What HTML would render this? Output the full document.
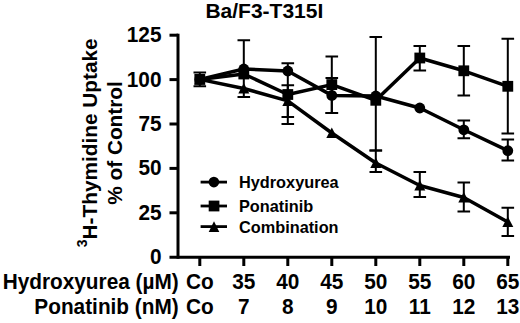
<!DOCTYPE html>
<html><head><meta charset="utf-8"><style>
html,body{margin:0;padding:0;background:#fff;width:520px;height:323px;overflow:hidden}
svg{display:block}
text{font-family:"Liberation Sans",sans-serif;font-weight:bold}
</style></head><body>
<svg width="520" height="323" viewBox="0 0 520 323">
<path d="M178 33.7V258.7" stroke="#000" stroke-width="3" fill="none"/>
<path d="M169.5 257.2H510" stroke="#000" stroke-width="3" fill="none"/>
<path d="M169.5 35.2H178" stroke="#000" stroke-width="3"/>
<path d="M169.5 79.6H178" stroke="#000" stroke-width="3"/>
<path d="M169.5 124.0H178" stroke="#000" stroke-width="3"/>
<path d="M169.5 168.4H178" stroke="#000" stroke-width="3"/>
<path d="M169.5 212.8H178" stroke="#000" stroke-width="3"/>
<path d="M199.8 257.2V266" stroke="#000" stroke-width="3"/>
<path d="M243.8 257.2V266" stroke="#000" stroke-width="3"/>
<path d="M287.8 257.2V266" stroke="#000" stroke-width="3"/>
<path d="M331.8 257.2V266" stroke="#000" stroke-width="3"/>
<path d="M375.8 257.2V266" stroke="#000" stroke-width="3"/>
<path d="M419.8 257.2V266" stroke="#000" stroke-width="3"/>
<path d="M463.8 257.2V266" stroke="#000" stroke-width="3"/>
<path d="M507.8 257.2V266" stroke="#000" stroke-width="3"/>
<path d="M199.8 72.4V86.2M193.5 72.4H206.10000000000002M193.5 86.2H206.10000000000002" stroke="#000" stroke-width="2" fill="none"/>
<path d="M243.8 40.3V96.9M237.5 40.3H250.10000000000002M237.5 96.9H250.10000000000002" stroke="#000" stroke-width="2" fill="none"/>
<path d="M287.8 63.2V124.0M281.5 63.2H294.1M281.5 124.0H294.1" stroke="#000" stroke-width="2" fill="none"/>
<path d="M287.8 85.3V116.9M281.5 85.3H294.1M281.5 116.9H294.1" stroke="#000" stroke-width="2" fill="none"/>
<path d="M331.8 56.5V113.1M325.5 56.5H338.1M325.5 113.1H338.1" stroke="#000" stroke-width="2" fill="none"/>
<path d="M331.8 77.9V113.1M325.5 77.9H338.1M325.5 113.1H338.1" stroke="#000" stroke-width="2" fill="none"/>
<path d="M375.8 37.0V150.6M369.5 37.0H382.1M369.5 150.6H382.1" stroke="#000" stroke-width="2" fill="none"/>
<path d="M375.8 150.6V172.0M369.5 150.6H382.1M369.5 172.0H382.1" stroke="#000" stroke-width="2" fill="none"/>
<path d="M419.8 46.1V70.4M413.5 46.1H426.1M413.5 70.4H426.1" stroke="#000" stroke-width="2" fill="none"/>
<path d="M419.8 172.0V196.9M413.5 172.0H426.1M413.5 196.9H426.1" stroke="#000" stroke-width="2" fill="none"/>
<path d="M463.8 46.1V95.6M457.5 46.1H470.1M457.5 95.6H470.1" stroke="#000" stroke-width="2" fill="none"/>
<path d="M463.8 120.5V138.2M457.5 120.5H470.1M457.5 138.2H470.1" stroke="#000" stroke-width="2" fill="none"/>
<path d="M463.8 182.4V211.5M457.5 182.4H470.1M457.5 211.5H470.1" stroke="#000" stroke-width="2" fill="none"/>
<path d="M507.8 38.7V133.4M501.5 38.7H514.1M501.5 133.4H514.1" stroke="#000" stroke-width="2" fill="none"/>
<path d="M507.8 139.6V160.6M501.5 139.6H514.1M501.5 160.6H514.1" stroke="#000" stroke-width="2" fill="none"/>
<path d="M507.8 207.7V236.0M501.5 207.7H514.1M501.5 236.0H514.1" stroke="#000" stroke-width="2" fill="none"/>
<polyline points="199.8,79.4 243.8,69.0 287.8,71.0 331.8,95.4 375.8,96.0 419.8,108.0 463.8,129.8 507.8,150.7" stroke="#000" stroke-width="3.5" fill="none" stroke-linejoin="round"/>
<polyline points="199.8,79.4 243.8,74.0 287.8,94.5 331.8,84.6 375.8,100.3 419.8,58.0 463.8,70.8 507.8,86.3" stroke="#000" stroke-width="3.5" fill="none" stroke-linejoin="round"/>
<polyline points="199.8,79.4 243.8,88.5 287.8,100.9 331.8,133.0 375.8,163.0 419.8,185.5 463.8,197.5 507.8,222.0" stroke="#000" stroke-width="3.5" fill="none" stroke-linejoin="round"/>
<circle cx="199.8" cy="79.4" r="5.4" fill="#000"/>
<rect x="194.4" y="74.0" width="10.8" height="10.8" fill="#000"/>
<path d="M199.8 73.9L205.3 84.4L194.3 84.4Z" fill="#000"/>
<circle cx="243.8" cy="69.0" r="5.4" fill="#000"/>
<rect x="238.4" y="68.6" width="10.8" height="10.8" fill="#000"/>
<path d="M243.8 83.0L249.3 93.5L238.3 93.5Z" fill="#000"/>
<circle cx="287.8" cy="71.0" r="5.4" fill="#000"/>
<rect x="282.40000000000003" y="89.1" width="10.8" height="10.8" fill="#000"/>
<path d="M287.8 95.4L293.3 105.9L282.3 105.9Z" fill="#000"/>
<circle cx="331.8" cy="95.4" r="5.4" fill="#000"/>
<rect x="326.40000000000003" y="79.19999999999999" width="10.8" height="10.8" fill="#000"/>
<path d="M331.8 127.5L337.3 138.0L326.3 138.0Z" fill="#000"/>
<circle cx="375.8" cy="96.0" r="5.4" fill="#000"/>
<rect x="370.40000000000003" y="94.89999999999999" width="10.8" height="10.8" fill="#000"/>
<path d="M375.8 157.5L381.3 168.0L370.3 168.0Z" fill="#000"/>
<circle cx="419.8" cy="108.0" r="5.4" fill="#000"/>
<rect x="414.40000000000003" y="52.6" width="10.8" height="10.8" fill="#000"/>
<path d="M419.8 180.0L425.3 190.5L414.3 190.5Z" fill="#000"/>
<circle cx="463.8" cy="129.8" r="5.4" fill="#000"/>
<rect x="458.40000000000003" y="65.39999999999999" width="10.8" height="10.8" fill="#000"/>
<path d="M463.8 192.0L469.3 202.5L458.3 202.5Z" fill="#000"/>
<circle cx="507.8" cy="150.7" r="5.4" fill="#000"/>
<rect x="502.40000000000003" y="80.89999999999999" width="10.8" height="10.8" fill="#000"/>
<path d="M507.8 216.5L513.3 227.0L502.3 227.0Z" fill="#000"/>
<path d="M200.6 182.1H227" stroke="#000" stroke-width="2.8"/>
<circle cx="213.9" cy="182.1" r="5.3" fill="#000"/>
<text transform="translate(239 188.1) scale(1 1.05)" font-size="16.3" font-family="Liberation Sans, sans-serif" font-weight="bold">Hydroxyurea</text>
<path d="M200.6 206.0H227" stroke="#000" stroke-width="2.8"/>
<rect x="208.7" y="200.6" width="10.7" height="10.8" fill="#000"/>
<text transform="translate(239 212.0) scale(1 1.05)" font-size="16.3" font-family="Liberation Sans, sans-serif" font-weight="bold">Ponatinib</text>
<path d="M200.6 226.6H227" stroke="#000" stroke-width="2.8"/>
<path d="M214 221.29999999999998L219.3 232.0L208.7 232.0Z" fill="#000"/>
<text transform="translate(239 232.6) scale(1 1.05)" font-size="16.3" font-family="Liberation Sans, sans-serif" font-weight="bold">Combination</text>
<text x="205.4" y="18.2" font-size="21" font-family="Liberation Sans, sans-serif" font-weight="bold">Ba/F3-T315I</text>
<text transform="translate(161.5 42.2) scale(1 1.06)" font-size="20.8" text-anchor="end" font-family="Liberation Sans, sans-serif" font-weight="bold">125</text>
<text transform="translate(161.5 86.6) scale(1 1.06)" font-size="20.8" text-anchor="end" font-family="Liberation Sans, sans-serif" font-weight="bold">100</text>
<text transform="translate(161.5 131.0) scale(1 1.06)" font-size="20.8" text-anchor="end" font-family="Liberation Sans, sans-serif" font-weight="bold">75</text>
<text transform="translate(161.5 175.4) scale(1 1.06)" font-size="20.8" text-anchor="end" font-family="Liberation Sans, sans-serif" font-weight="bold">50</text>
<text transform="translate(161.5 219.8) scale(1 1.06)" font-size="20.8" text-anchor="end" font-family="Liberation Sans, sans-serif" font-weight="bold">25</text>
<text transform="translate(161.5 264.2) scale(1 1.06)" font-size="20.8" text-anchor="end" font-family="Liberation Sans, sans-serif" font-weight="bold">0</text>
<g transform="translate(97,142.8) rotate(-90)"><text x="0" y="0" font-size="20.8" text-anchor="middle" font-family="Liberation Sans, sans-serif" font-weight="bold"><tspan font-size="14" dy="-10">3</tspan><tspan dy="10">H-Thymidine Uptake</tspan></text></g>
<g transform="translate(121.6,143) rotate(-90)"><text x="0" y="0" font-size="20.8" text-anchor="middle" font-family="Liberation Sans, sans-serif" font-weight="bold">% of Control</text></g>
<text transform="translate(178.7 288.6) scale(1 1.06)" font-size="20.8" text-anchor="end" font-family="Liberation Sans, sans-serif" font-weight="bold">Hydroxyurea (µM)</text>
<text transform="translate(178.7 313.6) scale(1 1.06)" font-size="20.8" text-anchor="end" font-family="Liberation Sans, sans-serif" font-weight="bold">Ponatinib (nM)</text>
<text transform="translate(199.8 288.6) scale(1 1.06)" font-size="20.8" text-anchor="middle" font-family="Liberation Sans, sans-serif" font-weight="bold">Co</text>
<text transform="translate(199.8 313.6) scale(1 1.06)" font-size="20.8" text-anchor="middle" font-family="Liberation Sans, sans-serif" font-weight="bold">Co</text>
<text transform="translate(243.8 288.6) scale(1 1.06)" font-size="20.8" text-anchor="middle" font-family="Liberation Sans, sans-serif" font-weight="bold">35</text>
<text transform="translate(243.8 313.6) scale(1 1.06)" font-size="20.8" text-anchor="middle" font-family="Liberation Sans, sans-serif" font-weight="bold">7</text>
<text transform="translate(287.8 288.6) scale(1 1.06)" font-size="20.8" text-anchor="middle" font-family="Liberation Sans, sans-serif" font-weight="bold">40</text>
<text transform="translate(287.8 313.6) scale(1 1.06)" font-size="20.8" text-anchor="middle" font-family="Liberation Sans, sans-serif" font-weight="bold">8</text>
<text transform="translate(331.8 288.6) scale(1 1.06)" font-size="20.8" text-anchor="middle" font-family="Liberation Sans, sans-serif" font-weight="bold">45</text>
<text transform="translate(331.8 313.6) scale(1 1.06)" font-size="20.8" text-anchor="middle" font-family="Liberation Sans, sans-serif" font-weight="bold">9</text>
<text transform="translate(375.8 288.6) scale(1 1.06)" font-size="20.8" text-anchor="middle" font-family="Liberation Sans, sans-serif" font-weight="bold">50</text>
<text transform="translate(375.8 313.6) scale(1 1.06)" font-size="20.8" text-anchor="middle" font-family="Liberation Sans, sans-serif" font-weight="bold">10</text>
<text transform="translate(419.8 288.6) scale(1 1.06)" font-size="20.8" text-anchor="middle" font-family="Liberation Sans, sans-serif" font-weight="bold">55</text>
<text transform="translate(419.8 313.6) scale(1 1.06)" font-size="20.8" text-anchor="middle" font-family="Liberation Sans, sans-serif" font-weight="bold">11</text>
<text transform="translate(463.8 288.6) scale(1 1.06)" font-size="20.8" text-anchor="middle" font-family="Liberation Sans, sans-serif" font-weight="bold">60</text>
<text transform="translate(463.8 313.6) scale(1 1.06)" font-size="20.8" text-anchor="middle" font-family="Liberation Sans, sans-serif" font-weight="bold">12</text>
<text transform="translate(507.8 288.6) scale(1 1.06)" font-size="20.8" text-anchor="middle" font-family="Liberation Sans, sans-serif" font-weight="bold">65</text>
<text transform="translate(507.8 313.6) scale(1 1.06)" font-size="20.8" text-anchor="middle" font-family="Liberation Sans, sans-serif" font-weight="bold">13</text>
</svg>
</body></html>
